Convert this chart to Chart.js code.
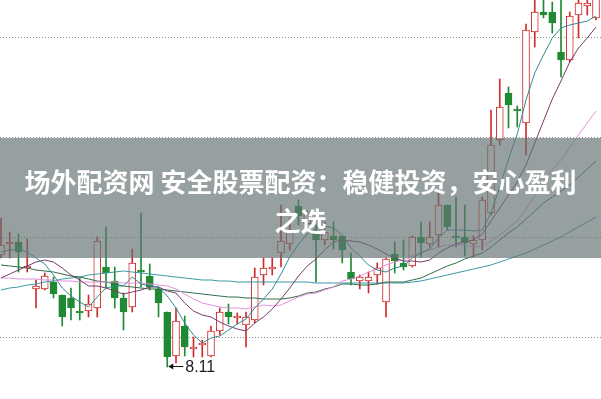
<!DOCTYPE html>
<html>
<head>
<meta charset="utf-8">
<title>K线图</title>
<script src="https://cdn.jsdelivr.net/npm/chart.js@4.4.1/dist/chart.umd.min.js"></script>
<style>
    body { margin: 0; background: #ffffff; }
    .wrap { position: relative; width: 601px; height: 399px; overflow: hidden; }
    .banner {
        position: absolute; left: 0; top: 138px; width: 601px; height: 120px;
        box-sizing: border-box; padding-top: 23px;
        background: rgba(100, 115, 115, 0.68);
        color: #ffffff; text-align: center;
        font: bold 26px "Noto Sans CJK SC", sans-serif; line-height: 39px;
    }
</style>
</head>
<body>
<div class="wrap">
    <canvas id="kline" width="601" height="399"></canvas>
    <div class="banner">场外配资网 安全股票配资：稳健投资，安心盈利<br>之选</div>
</div>
<script>
// Daily candles (price units)
const opens  = [9.23, 9.34, 9.36, 9.10, 8.89, 8.89, 8.96, 8.83, 8.80, 8.67, 8.67, 8.70, 9.11, 8.97, 8.80, 8.71, 9.08, 9.02, 8.89, 8.66,
                8.22, 8.52, 8.29, 8.33, 8.22, 8.47, 8.66, 8.60, 8.53, 8.58, 9.03, 9.09, 9.25, 9.34, 9.72, 9.54, 9.46, 9.38, 9.42, 9.42,
                9.06, 8.97, 8.97, 9.03, 8.76, 9.24, 9.15, 9.12, 9.41, 9.34, 9.43, 9.73, 9.42, 9.41, 9.34, 9.38, 9.65, 10.38, 10.85, 10.69,
                10.55, 11.46, 11.66, 11.66, 11.26, 11.18, 11.63, 11.72, 11.60];
const closes = [9.33, 9.36, 9.26, 9.12, 8.92, 9.02, 8.84, 8.61, 8.70, 8.65, 8.74, 9.37, 9.05, 8.80, 8.66, 9.15, 9.06, 8.91, 8.75, 8.21,
                8.57, 8.31, 8.31, 8.35, 8.47, 8.66, 8.61, 8.62, 8.61, 9.01, 9.10, 9.11, 9.37, 9.48, 9.62, 9.64, 9.38, 9.46, 9.38, 9.28,
                8.99, 9.01, 9.01, 9.10, 9.19, 9.17, 9.11, 9.41, 9.35, 9.41, 9.73, 9.51, 9.40, 9.35, 9.38, 9.78, 10.33, 10.71, 10.73, 10.67,
                11.48, 11.66, 11.63, 11.55, 11.18, 11.62, 11.75, 11.75, 11.81];
const highs  = [9.60, 9.46, 9.44, 9.39, 8.98, 9.05, 9.01, 8.83, 8.90, 9.00, 8.83, 9.41, 9.51, 9.11, 8.85, 9.29, 9.65, 9.14, 8.91, 8.66,
                8.70, 8.62, 8.41, 8.38, 8.52, 8.70, 8.74, 8.65, 8.66, 9.10, 9.20, 9.20, 9.73, 9.60, 9.78, 9.67, 9.53, 9.56, 9.56, 9.42,
                9.25, 9.03, 9.06, 9.15, 9.20, 9.36, 9.38, 9.42, 9.56, 9.56, 9.88, 9.73, 9.81, 9.73, 9.42, 9.81, 10.68, 10.99, 10.91, 10.72,
                11.54, 11.83, 11.83, 11.76, 11.83, 11.66, 11.83, 11.83, 11.85];
const lows   = [9.20, 9.20, 9.06, 9.06, 8.70, 8.88, 8.80, 8.52, 8.58, 8.58, 8.61, 8.61, 8.90, 8.70, 8.48, 8.66, 8.91, 8.88, 8.61, 8.11,
                8.15, 8.22, 8.21, 8.21, 8.21, 8.43, 8.54, 8.54, 8.31, 8.55, 8.93, 9.03, 9.11, 9.28, 9.53, 9.49, 8.96, 9.33, 9.29, 9.15,
                8.93, 8.89, 8.85, 8.94, 8.61, 9.05, 9.08, 9.11, 9.21, 9.31, 9.31, 9.48, 9.31, 9.22, 9.21, 9.28, 9.63, 10.33, 10.50, 10.51,
                10.23, 11.31, 11.60, 11.45, 11.01, 11.16, 11.40, 11.63, 11.58];

// Moving averages
const ma5  = [9.26, 9.28, 9.29, 9.26, 9.20, 9.14, 9.03, 8.90, 8.82, 8.76, 8.71, 8.81, 8.90, 8.92, 8.92, 9.01, 8.94, 8.92, 8.91, 8.82,
              8.70, 8.55, 8.43, 8.35, 8.40, 8.42, 8.48, 8.54, 8.59, 8.70, 8.79, 8.89, 9.04, 9.21, 9.34, 9.44, 9.50, 9.52, 9.50, 9.43,
              9.30, 9.22, 9.13, 9.08, 9.06, 9.10, 9.12, 9.20, 9.25, 9.29, 9.40, 9.48, 9.48, 9.48, 9.47, 9.48, 9.65, 9.91, 10.19, 10.44,
              10.78, 11.05, 11.23, 11.40, 11.50, 11.53, 11.55, 11.57, 11.62];
const ma10 = [9.00, 9.04, 9.08, 9.12, 9.16, 9.18, 9.16, 9.10, 9.03, 8.98, 8.92, 8.92, 8.90, 8.87, 8.84, 8.86, 8.88, 8.91, 8.91, 8.87,
              8.85, 8.75, 8.67, 8.63, 8.61, 8.56, 8.52, 8.49, 8.47, 8.55, 8.61, 8.69, 8.79, 8.90, 9.02, 9.12, 9.19, 9.28, 9.36, 9.38,
              9.37, 9.36, 9.33, 9.29, 9.24, 9.20, 9.17, 9.17, 9.16, 9.18, 9.25, 9.30, 9.34, 9.36, 9.38, 9.44, 9.57, 9.70, 9.83, 9.96,
              10.13, 10.35, 10.57, 10.79, 10.97, 11.16, 11.30, 11.40, 11.51];
const ma20 = [9.00, 9.00, 8.99, 8.99, 8.99, 8.98, 8.98, 8.97, 8.97, 8.96, 8.96, 8.96, 8.96, 8.96, 8.95, 8.95, 8.95, 8.94, 8.93, 8.92,
              8.89, 8.84, 8.79, 8.75, 8.73, 8.71, 8.70, 8.70, 8.69, 8.71, 8.73, 8.72, 8.73, 8.77, 8.81, 8.84, 8.85, 8.88, 8.91, 8.97,
              8.99, 9.02, 9.06, 9.09, 9.13, 9.16, 9.18, 9.22, 9.26, 9.28, 9.31, 9.33, 9.33, 9.33, 9.31, 9.32, 9.37, 9.43, 9.50, 9.57,
              9.69, 9.82, 9.96, 10.08, 10.18, 10.30, 10.43, 10.55, 10.67];
const ma30 = [9.13, 9.12, 9.11, 9.10, 9.08, 9.07, 9.06, 9.04, 9.02, 9.01, 8.99, 8.97, 8.96, 8.94, 8.92, 8.91, 8.90, 8.89, 8.89, 8.88,
              8.87, 8.86, 8.85, 8.84, 8.83, 8.82, 8.81, 8.81, 8.80, 8.80, 8.79, 8.79, 8.79, 8.80, 8.82, 8.85, 8.86, 8.89, 8.91, 8.94,
              8.94, 8.93, 8.93, 8.94, 8.96, 8.96, 8.96, 8.98, 9.00, 9.04, 9.08, 9.12, 9.15, 9.19, 9.22, 9.25, 9.31, 9.38, 9.45, 9.51,
              9.59, 9.67, 9.75, 9.81, 9.87, 9.93, 10.01, 10.09, 10.17];
const ma60 = [8.88, 8.90, 8.91, 8.93, 8.94, 8.96, 8.97, 8.99, 9.00, 9.01, 9.03, 9.04, 9.05, 9.06, 9.07, 9.06, 9.05, 9.04, 9.03, 9.02,
              9.01, 9.00, 8.99, 8.98, 8.98, 8.97, 8.97, 8.96, 8.96, 8.96, 8.96, 8.96, 8.96, 8.96, 8.96, 8.96, 8.95, 8.95, 8.95, 8.95,
              8.95, 8.95, 8.95, 8.95, 8.95, 8.95, 8.95, 8.96, 8.97, 8.99, 9.01, 9.03, 9.05, 9.07, 9.09, 9.11, 9.13, 9.16, 9.19, 9.22,
              9.25, 9.29, 9.33, 9.37, 9.41, 9.46, 9.51, 9.56, 9.61];

// Dotted price levels
const gridLevels = [8.4, 9.4, 10.4, 11.4];

const RED = '#cf2b2b';
const GREEN = '#1f8a33';

document.addEventListener('DOMContentLoaded', function() {
    const isUp = opens.map((o, i) => closes[i] >= o);

    // Arrow + label at the lowest low
    const lowLabel = {
        id: 'lowLabel',
        afterDatasetsDraw(chart) {
            const low = Math.min(...lows);
            const i = lows.indexOf(low);
            const x = chart.scales.x.getPixelForValue(i);
            const y = Math.round(chart.scales.y.getPixelForValue(low)) - 0.5;
            const ctx = chart.ctx;
            ctx.save();
            ctx.strokeStyle = '#111111';
            ctx.fillStyle = '#111111';
            ctx.lineWidth = 1;
            ctx.beginPath();
            ctx.moveTo(x + 3, y);
            ctx.lineTo(x + 16, y);
            ctx.stroke();
            ctx.beginPath();
            ctx.moveTo(x + 1, y);
            ctx.lineTo(x + 6, y - 3);
            ctx.lineTo(x + 6, y + 3);
            ctx.closePath();
            ctx.fill();
            ctx.fillStyle = '#1c1c2a';
            ctx.font = '16px "Liberation Sans", Arial, sans-serif';
            ctx.textBaseline = 'middle';
            ctx.fillText(low.toFixed(2), x + 18, y + 1);
            ctx.restore();
        }
    };

    function maLine(values, color) {
        return {
            type: 'line',
            data: values.map((v, i) => ({ x: i, y: v })),
            borderColor: color,
            borderWidth: 1,
            pointRadius: 0,
            tension: 0,
            fill: false,
            order: 1
        };
    }

    const ctx = document.getElementById('kline').getContext('2d');
    new Chart(ctx, {
        type: 'bar',
        data: {
            datasets: [
                maLine(ma5, '#2f8c8e'),
                maLine(ma10, '#7a3a6c'),
                maLine(ma20, '#e590de'),
                maLine(ma30, '#2f6e4a'),
                maLine(ma60, '#3d97a6'),
                {
                    // candle bodies
                    data: opens.map((o, i) => ({ x: i, y: [o, closes[i]] })),
                    backgroundColor: isUp.map(u => u ? '#ffffff' : GREEN),
                    borderColor: isUp.map(u => u ? RED : GREEN),
                    borderWidth: 1,
                    borderSkipped: false,
                    barThickness: 7,
                    grouped: false,
                    order: 2
                },
                {
                    // wicks
                    data: lows.map((l, i) => ({ x: i, y: [l, highs[i]] })),
                    backgroundColor: isUp.map(u => u ? RED : GREEN),
                    borderWidth: 0,
                    barThickness: 1,
                    grouped: false,
                    order: 3
                }
            ]
        },
        options: {
            responsive: false,
            animation: false,
            layout: { padding: 0 },
            plugins: {
                legend: { display: false },
                tooltip: { enabled: false }
            },
            scales: {
                x: {
                    type: 'linear',
                    min: -0.114,
                    max: 68.57,
                    offset: false,
                    grid: { offset: false },
                    display: false
                },
                y: {
                    min: 7.79,
                    max: 11.78,
                    ticks: { display: false },
                    grid: { color: '#8c8c8c', drawTicks: false },
                    border: { display: false, dash: [1, 2] },
                    afterBuildTicks: axis => { axis.ticks = gridLevels.map(v => ({ value: v })); },
                    afterFit: axis => { axis.width = 0; }
                }
            }
        },
        plugins: [lowLabel]
    });
});
</script>
</body>
</html>
